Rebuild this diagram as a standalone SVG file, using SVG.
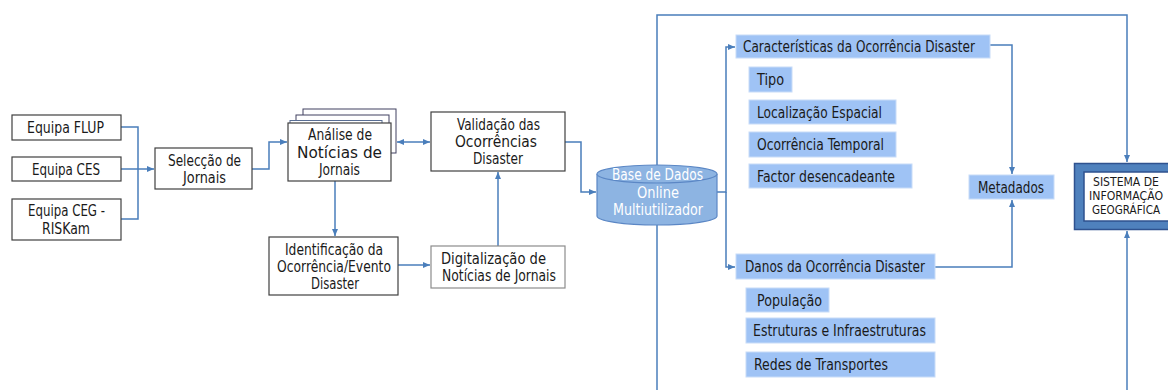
<svg xmlns="http://www.w3.org/2000/svg" width="1168" height="390" viewBox="0 0 1168 390">
<defs>
<marker id="ah" markerWidth="8" markerHeight="8" refX="7" refY="4" orient="auto" markerUnits="userSpaceOnUse">
<path d="M0,1 L7,4 L0,7 Z" fill="#4a7ebb"/>
</marker>
<marker id="as" markerWidth="8" markerHeight="8" refX="1" refY="4" orient="auto" markerUnits="userSpaceOnUse">
<path d="M8,1 L1,4 L8,7 Z" fill="#4a7ebb"/>
</marker>
<style>
.box{fill:#fff;stroke:#404040;stroke-width:1.2}
.box2{fill:#fff;stroke:#8c8c8c;stroke-width:1.2}
.lb{fill:#9fc3f5;stroke:#c8dcf8;stroke-width:1}
.t{font-family:"DejaVu Sans Condensed","Liberation Sans",sans-serif;font-size:15px;fill:#1a1a1a}
.w{font-family:"DejaVu Sans Condensed","Liberation Sans",sans-serif;font-size:15px;fill:#ffffff}
.s{font-family:"DejaVu Sans Condensed","Liberation Sans",sans-serif;font-size:12.5px;fill:#1a1a1a}
.c{fill:none;stroke:#4a7ebb;stroke-width:1.5}
</style>
</defs>
<rect width="1168" height="390" fill="#ffffff"/>

<g id="connectors">
<path class="c" d="M121,127 H138 V219 H121"/>
<path class="c" d="M121,169 H154" marker-end="url(#ah)"/>
<path class="c" d="M252,169 H269 V142 H287" marker-end="url(#ah)"/>
<path class="c" d="M397,142 H430" marker-start="url(#as)" marker-end="url(#ah)"/>
<path class="c" d="M335,181 V236" marker-end="url(#ah)"/>
<path class="c" d="M398,265 H430" marker-end="url(#ah)"/>
<path class="c" d="M498,246 V172" marker-end="url(#ah)"/>
<path class="c" d="M565,142 H581 V192 H596" marker-end="url(#ah)"/>
<path class="c" d="M657,166 V15 H1127 V162" marker-end="url(#ah)"/>
<path class="c" d="M657,225 V390"/>
<path class="c" d="M1127,390 V231" marker-end="url(#ah)"/>
<path class="c" d="M717,192 H726 V47 H735" marker-end="url(#ah)"/>
<path class="c" d="M726,192 V267 H735" marker-end="url(#ah)"/>
<path class="c" d="M990,45 H1012 V174" marker-end="url(#ah)"/>
<path class="c" d="M935,267 H1012 V200" marker-end="url(#ah)"/>
</g>

<g id="equipa-flup">
<rect class="box" x="12" y="115" width="109" height="25"/>
<text class="t" x="27" y="133" textLength="77" lengthAdjust="spacingAndGlyphs">Equipa FLUP</text>
</g>
<g id="equipa-ces">
<rect class="box" x="12" y="157" width="109" height="24"/>
<text class="t" x="32" y="175" textLength="68" lengthAdjust="spacingAndGlyphs">Equipa CES</text>
</g>
<g id="equipa-ceg">
<rect class="box" x="12" y="199" width="109" height="41"/>
<text class="t" x="28" y="216" textLength="77" lengthAdjust="spacingAndGlyphs">Equipa CEG -</text>
<text class="t" x="42" y="234" textLength="48" lengthAdjust="spacingAndGlyphs">RISKam</text>
</g>
<g id="seleccao">
<rect class="box" x="155" y="148" width="97" height="41"/>
<text class="t" x="168" y="166" textLength="73" lengthAdjust="spacingAndGlyphs">Selecção de</text>
<text class="t" x="183" y="183" textLength="43" lengthAdjust="spacingAndGlyphs">Jornais</text>
</g>
<g id="analise">
<rect x="303" y="109" width="93" height="44" fill="#fff" stroke="#404060" stroke-width="1"/>
<rect x="296" y="115" width="93" height="44" fill="#fff" stroke="#404060" stroke-width="1"/>
<rect x="290" y="120.5" width="92" height="40" fill="#fff" stroke="#5a6f95" stroke-width="1"/>
<rect class="box" x="288" y="123" width="103" height="58"/>
<text class="t" x="308" y="140" textLength="64" lengthAdjust="spacingAndGlyphs">Análise de</text>
<text class="t" x="297" y="158" textLength="85" lengthAdjust="spacingAndGlyphs">Notícias de</text>
<text class="t" x="319" y="175" textLength="41" lengthAdjust="spacingAndGlyphs">Jornais</text>
</g>
<g id="validacao">
<rect class="box" x="431" y="112" width="134" height="59"/>
<text class="t" x="457" y="130" textLength="83" lengthAdjust="spacingAndGlyphs">Validação das</text>
<text class="t" x="455" y="147" textLength="82" lengthAdjust="spacingAndGlyphs">Ocorrências</text>
<text class="t" x="473" y="164" textLength="50" lengthAdjust="spacingAndGlyphs">Disaster</text>
</g>
<g id="identificacao">
<rect class="box" x="269" y="237" width="129" height="58"/>
<text class="t" x="285" y="255" textLength="98" lengthAdjust="spacingAndGlyphs">Identificação da</text>
<text class="t" x="277" y="272" textLength="114" lengthAdjust="spacingAndGlyphs">Ocorrência/Evento</text>
<text class="t" x="311" y="289" textLength="48" lengthAdjust="spacingAndGlyphs">Disaster</text>
</g>
<g id="digitalizacao">
<rect class="box2" x="431" y="246" width="134" height="42"/>
<text class="t" x="441" y="264" textLength="105" lengthAdjust="spacingAndGlyphs">Digitalização de</text>
<text class="t" x="442" y="281" textLength="114" lengthAdjust="spacingAndGlyphs">Notícias de Jornais</text>
</g>
<g id="base-de-dados">
<path d="M597,174 V216 A60,9 0 0 0 717,216 V174" fill="#8db4e2" stroke="#5b87c5" stroke-width="1.2"/>
<ellipse cx="657" cy="174" rx="60" ry="9" fill="#8db4e2" stroke="#5b87c5" stroke-width="1.2"/>
<text class="w" x="612" y="180" textLength="91" lengthAdjust="spacingAndGlyphs">Base de Dados</text>
<text class="w" x="637" y="198" textLength="42" lengthAdjust="spacingAndGlyphs">Online</text>
<text class="w" x="613" y="215" textLength="90" lengthAdjust="spacingAndGlyphs">Multiutilizador</text>
</g>
<g id="caracteristicas">
<rect class="lb" x="736" y="35" width="254" height="23"/>
<text class="t" x="743" y="52" textLength="232" lengthAdjust="spacingAndGlyphs">Características da Ocorrência Disaster</text>
</g>
<g id="tipo">
<rect class="lb" x="749" y="67" width="43" height="25"/>
<text class="t" x="757" y="85" textLength="27" lengthAdjust="spacingAndGlyphs">Tipo</text>
</g>
<g id="localizacao">
<rect class="lb" x="749" y="100" width="147" height="24"/>
<text class="t" x="757" y="118" textLength="125" lengthAdjust="spacingAndGlyphs">Localização Espacial</text>
</g>
<g id="ocorrencia-temporal">
<rect class="lb" x="749" y="132" width="147" height="25"/>
<text class="t" x="757" y="150" textLength="127" lengthAdjust="spacingAndGlyphs">Ocorrência Temporal</text>
</g>
<g id="factor">
<rect class="lb" x="749" y="164" width="163" height="24"/>
<text class="t" x="757" y="182" textLength="138" lengthAdjust="spacingAndGlyphs">Factor desencadeante</text>
</g>
<g id="metadados">
<rect class="lb" x="969" y="175" width="85" height="24"/>
<text class="t" x="978" y="193" textLength="66" lengthAdjust="spacingAndGlyphs">Metadados</text>
</g>
<g id="danos">
<rect class="lb" x="736" y="254" width="199" height="25"/>
<text class="t" x="745" y="272" textLength="180" lengthAdjust="spacingAndGlyphs">Danos da Ocorrência Disaster</text>
</g>
<g id="populacao">
<rect class="lb" x="746" y="288" width="83" height="24"/>
<text class="t" x="757" y="306" textLength="65" lengthAdjust="spacingAndGlyphs">População</text>
</g>
<g id="estruturas">
<rect class="lb" x="746" y="318" width="189" height="25"/>
<text class="t" x="753" y="336" textLength="173" lengthAdjust="spacingAndGlyphs">Estruturas e Infraestruturas</text>
</g>
<g id="redes">
<rect class="lb" x="746" y="352" width="189" height="25"/>
<text class="t" x="754" y="370" textLength="134" lengthAdjust="spacingAndGlyphs">Redes de Transportes</text>
</g>
<g id="sig">
<rect x="1074.5" y="163.5" width="100" height="66" fill="#4f81bd" stroke="#2f528f" stroke-width="1.5"/>
<rect x="1084" y="172" width="90" height="49" fill="#ffffff" stroke="#2f528f" stroke-width="1.5"/>
<text class="s" x="1093" y="186" textLength="66" lengthAdjust="spacingAndGlyphs">SISTEMA DE</text>
<text class="s" x="1089" y="200" textLength="74" lengthAdjust="spacingAndGlyphs">INFORMAÇÃO</text>
<text class="s" x="1092" y="214" textLength="68" lengthAdjust="spacingAndGlyphs">GEOGRÁFICA</text>
</g>
</svg>
